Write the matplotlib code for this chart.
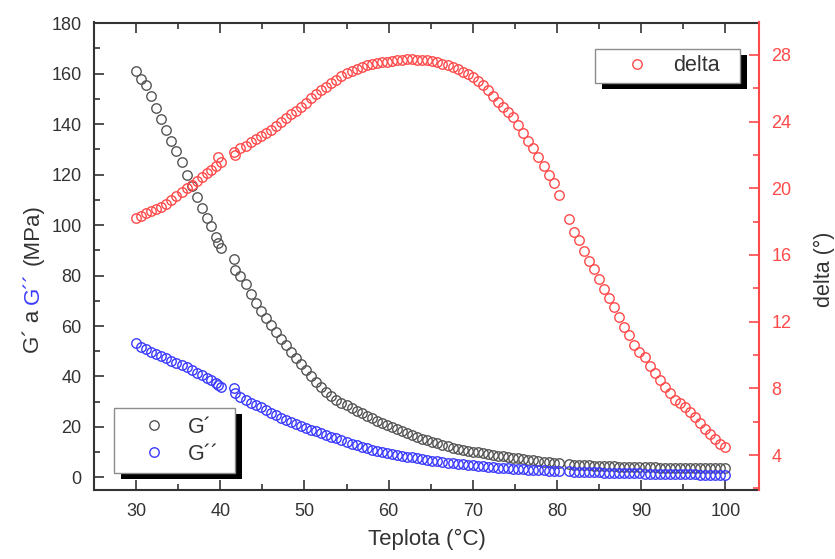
import matplotlib
matplotlib.use('Agg')
import matplotlib.pyplot as plt
from matplotlib.patches import Rectangle
from matplotlib.transforms import IdentityTransform
from matplotlib.ticker import MultipleLocator

plt.rcParams['font.family'] = ['Liberation Sans', 'DejaVu Sans']

# ---------------- data ----------------
temperature = [
    30.0, 30.6, 31.2, 31.8, 32.4, 33.0, 33.6, 34.2, 34.8, 35.4,
    36.0, 36.6, 37.2, 37.8, 38.4, 38.9, 39.5, 39.7, 40.1,
    41.6, 41.8,
    42.4, 43.0, 43.6, 44.2, 44.8, 45.4, 46.0, 46.6, 47.2, 47.8,
    48.4, 49.0, 49.6, 50.2, 50.8, 51.4, 52.0, 52.6, 53.2, 53.8,
    54.4, 55.0, 55.6, 56.2, 56.8, 57.4, 58.0, 58.6, 59.2, 59.8,
    60.4, 61.0, 61.6, 62.2, 62.8, 63.4, 64.0, 64.6, 65.2, 65.8,
    66.4, 67.0, 67.6, 68.2, 68.8, 69.4, 70.0, 70.6, 71.2, 71.8,
    72.4, 73.0, 73.6, 74.2, 74.8, 75.4, 76.0, 76.6, 77.2, 77.8,
    78.4, 79.0, 79.6, 80.2,
    81.4, 82.0, 82.6, 83.2, 83.8, 84.4,
    85.0, 85.6, 86.2, 86.8, 87.4, 88.0, 88.6, 89.2, 89.8, 90.4,
    91.0, 91.6, 92.2, 92.8, 93.4, 94.0, 94.6, 95.2, 95.8, 96.4,
    97.0, 97.6, 98.2, 98.8, 99.4, 100.0,
]

g_storage = [  # G' (MPa)
    161.0, 158.0, 155.5, 151.0, 146.5, 142.0, 137.5, 133.5, 129.5, 125.0,
    119.8, 115.5, 111.0, 106.8, 103.0, 99.5, 95.3, 93.0, 91.0,
    86.7, 82.3,
    80.0, 76.8, 72.8, 69.0, 66.0, 63.0, 60.5, 57.7, 55.0, 52.4,
    49.8, 47.2, 44.8, 42.5, 40.0, 38.0, 36.0, 34.0, 32.2, 30.8,
    29.6, 28.5, 27.4, 26.4, 25.4, 24.5, 23.5, 22.5, 21.6, 20.8,
    20.0, 19.2, 18.4, 17.6, 16.8, 16.0, 15.3, 14.7, 14.1, 13.5,
    12.9, 12.3, 11.8, 11.4, 11.0, 10.6, 10.2, 9.9, 9.5, 9.2,
    8.9, 8.6, 8.3, 8.0, 7.7, 7.5, 7.2, 7.0, 6.7, 6.5,
    6.2, 6.0, 5.8, 5.6,
    5.3, 5.1, 5.0, 4.9, 4.8, 4.7,
    4.6, 4.5, 4.4, 4.35, 4.3, 4.2, 4.15, 4.1, 4.05, 4.0,
    4.0, 3.95, 3.9, 3.9, 3.85, 3.8, 3.8, 3.8, 3.75, 3.7,
    3.7, 3.7, 3.65, 3.6, 3.6, 3.6,
]

g_loss = [  # G'' (MPa)
    53.2, 51.6, 50.7, 49.8, 48.9, 48.1, 47.3, 46.2, 45.3, 44.4,
    43.6, 42.6, 41.4, 40.4, 39.4, 38.5, 37.3, 36.8, 35.9,
    35.3, 33.3,
    32.0, 30.6, 29.6, 28.7, 27.7, 26.7, 25.7, 24.7, 23.7, 22.7,
    21.9, 21.1, 20.3, 19.5, 18.8, 18.2, 17.5, 16.8, 16.2, 15.5,
    14.8, 14.0, 13.3, 12.7, 12.1, 11.5, 11.0, 10.6, 10.2, 9.8,
    9.4, 9.0, 8.6, 8.2, 7.9, 7.5, 7.2, 6.9, 6.6, 6.3,
    6.1, 5.8, 5.6, 5.4, 5.2, 5.0, 4.8, 4.6, 4.4, 4.2,
    4.0, 3.85, 3.7, 3.55, 3.4, 3.3, 3.15, 3.05, 2.95, 2.85,
    2.75, 2.65, 2.55, 2.5,
    2.35, 2.25, 2.2, 2.1, 2.05, 2.0,
    1.95, 1.9, 1.85, 1.8, 1.75, 1.7, 1.65, 1.6, 1.55, 1.5,
    1.45, 1.4, 1.4, 1.35, 1.3, 1.3, 1.25, 1.2, 1.2, 1.15,
    1.1, 1.1, 1.05, 1.0, 1.0, 1.0,
]

delta = [  # loss angle (deg)
    18.2, 18.35, 18.5, 18.65, 18.78, 18.9, 19.08, 19.3, 19.55, 19.75,
    20.0, 20.2, 20.45, 20.7, 20.9, 21.1, 21.35, 21.85, 21.55,
    22.15, 22.0,
    22.4, 22.55, 22.75, 22.95, 23.15, 23.3, 23.5, 23.75, 24.0, 24.2,
    24.45, 24.65, 24.9, 25.1, 25.4, 25.65, 25.9, 26.1, 26.3, 26.5,
    26.72, 26.9, 27.05, 27.15, 27.27, 27.37, 27.45, 27.5, 27.55, 27.6,
    27.65, 27.7, 27.72, 27.75, 27.75, 27.72, 27.7, 27.67, 27.62, 27.55,
    27.47, 27.4, 27.3, 27.15, 27.0, 26.85, 26.7, 26.45, 26.2, 25.9,
    25.55, 25.2, 24.85, 24.6, 24.3, 23.8, 23.3, 22.85, 22.4, 21.85,
    21.35, 20.8, 20.3, 19.6,
    18.15, 17.4, 16.9, 16.25, 15.65, 15.15,
    14.55, 13.95, 13.4, 12.85, 12.25, 11.65, 11.2, 10.6, 10.2, 9.85,
    9.35, 8.9, 8.5, 8.1, 7.7, 7.3, 7.1, 6.85, 6.55, 6.25,
    5.9, 5.55, 5.25, 4.95, 4.65, 4.45,
]

x_ticks = [30, 40, 50, 60, 70, 80, 90, 100]
left_ticks = [0, 20, 40, 60, 80, 100, 120, 140, 160, 180]
right_ticks = [4, 8, 12, 16, 20, 24, 28]

# ---------------- style ----------------
W, H = 835, 559
GRAY = '#555555'
BLUE = '#3a3aff'
RED = '#ff4a4a'
TXT = '#333333'
FS_TICK = 13
FS_LAB = 16
FS_RLAB = 15.5
FS_LEG = 15.5

fig = plt.figure(figsize=(W / 100, H / 100), dpi=100)
L, R, T, B = 94, 759, 22.5, 490
ax = fig.add_axes([L / W, 1 - B / H, (R - L) / W, (B - T) / H])
ax2 = ax.twinx()

mk = dict(linestyle='none', marker='o', markerfacecolor='none',
          markersize=6.8, markeredgewidth=1.0)
h1, = ax.plot(temperature, g_storage, markeredgecolor=GRAY, **mk)
h2, = ax.plot(temperature, g_loss, markeredgecolor=BLUE, **mk)
h3, = ax2.plot(temperature, delta, markeredgecolor=RED, **mk)

ax.set_xlim(25, 104)
ax.set_ylim(-5, 180.3)
ax2.set_ylim(1.9, 29.95)

ax.set_xticks(x_ticks)
ax.set_yticks(left_ticks)
ax2.set_yticks(right_ticks)
ax.xaxis.set_minor_locator(MultipleLocator(5))
ax.yaxis.set_minor_locator(MultipleLocator(10))
ax2.yaxis.set_minor_locator(MultipleLocator(2))

for sp in ['left', 'bottom', 'top']:
    ax.spines[sp].set_color(TXT)
    ax.spines[sp].set_linewidth(1.5)
ax.spines['right'].set_visible(False)
for sp in ['left', 'bottom', 'top']:
    ax2.spines[sp].set_visible(False)
ax2.spines['right'].set_color(RED)
ax2.spines['right'].set_linewidth(1.5)

ax.tick_params(which='both', direction='in', top=True, right=False,
               color=TXT, labelcolor=TXT, labelsize=FS_TICK, width=1.2)
ax.tick_params(axis='x', which='major', length=7.5, pad=9)
ax.tick_params(axis='y', which='major', length=7.5, pad=9)
ax.tick_params(which='minor', length=4)
ax2.tick_params(which='both', direction='in', color=RED, labelcolor=RED,
                labelsize=FS_TICK, width=1.2)
ax2.tick_params(which='major', length=7.5, pad=9)
ax2.tick_params(which='minor', length=4)

ax.set_xlabel('Teplota (°C)', fontsize=FS_LAB, color=TXT, labelpad=7)

# ---------------- legends ----------------
leg_kw = dict(loc='upper left', mode='expand', borderaxespad=0,
              fancybox=False, framealpha=1, edgecolor='#8c8c8c',
              fontsize=FS_LEG, bbox_transform=fig.transFigure,
              numpoints=1, labelcolor=TXT)
leg1 = ax2.legend([h1, h2], ['G´', 'G´´'],
                  bbox_to_anchor=(114 / W, 1 - 408 / H - 0.1, 121 / W, 0.1),
                  borderpad=0.4, handlelength=2.9, handletextpad=0.15,
                  labelspacing=0.28, **leg_kw)
leg1.set_zorder(6)
ax2.add_artist(leg1)
leg2 = ax2.legend([h3], ['delta'],
                  bbox_to_anchor=(595 / W, 1 - 49 / H - 0.1, 145 / W, 0.1),
                  borderpad=0.3, handlelength=3.3, handletextpad=0.05,
                  **leg_kw)
leg2.set_zorder(6)

fig.canvas.draw()
renderer = fig.canvas.get_renderer()
for lg in (leg1, leg2):
    bb = lg.get_frame().get_window_extent(renderer)
    shadow = Rectangle((bb.x0 + 7, bb.y0 - 6), bb.width, bb.height,
                       transform=IdentityTransform(), facecolor='black',
                       edgecolor='none', zorder=5.5, clip_on=False)
    ax2.add_artist(shadow)

# ---------------- multi-coloured left label ----------------
parts = [('G´ a', TXT), ('G´´', BLUE), ('(MPa)', TXT)]
x_base = 39
y_pos = H - 353
space = FS_LAB * 100 / 72 * 0.28
for txt, col in parts:
    t = fig.text(x_base / W, y_pos / H, txt, rotation=90, rotation_mode='anchor',
                 ha='left', va='baseline', color=col, fontsize=FS_LAB)
    ext = t.get_window_extent(renderer)
    y_pos += ext.height + space

# right label
fig.text(830 / W, 1 - 269 / H, 'delta (°)', rotation=90, rotation_mode='anchor',
         ha='center', va='baseline', color=TXT, fontsize=FS_RLAB)

fig.savefig('out.png', dpi=100)
